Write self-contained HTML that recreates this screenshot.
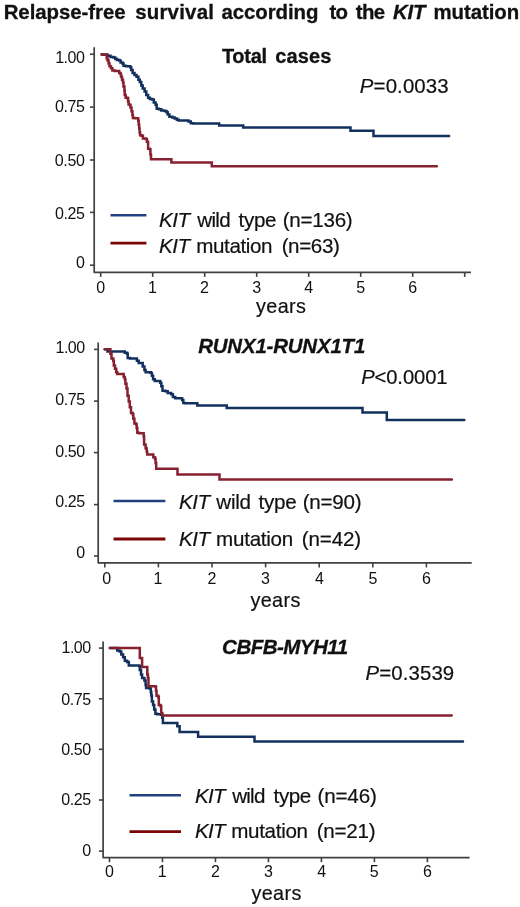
<!DOCTYPE html><html><head><meta charset="utf-8"><style>html,body{margin:0;padding:0;background:#fff;}svg{display:block;will-change:transform}text{font-family:"Liberation Sans",sans-serif;fill:#111111;stroke:#111111;stroke-width:0.2px}text[font-weight=bold]{stroke-width:0.3px}text.tk{stroke-width:0}</style></head><body>
<svg width="520" height="907" viewBox="0 0 520 907">
<rect width="520" height="907" fill="#fff"/>
<path d="M94.20 47.20 V272.30 H471.00" fill="none" stroke="#404040" stroke-width="1.7" stroke-linejoin="round"/>
<path d="M90.00 54.20 H94.20" stroke="#404040" stroke-width="1.6"/>
<path d="M90.00 107.10 H94.20" stroke="#404040" stroke-width="1.6"/>
<path d="M90.00 160.00 H94.20" stroke="#404040" stroke-width="1.6"/>
<path d="M90.00 212.40 H94.20" stroke="#404040" stroke-width="1.6"/>
<path d="M90.00 265.20 H94.20" stroke="#404040" stroke-width="1.6"/>
<path d="M100.70 272.30 V276.90" stroke="#404040" stroke-width="1.6"/>
<path d="M152.70 272.30 V276.90" stroke="#404040" stroke-width="1.6"/>
<path d="M204.70 272.30 V276.90" stroke="#404040" stroke-width="1.6"/>
<path d="M256.70 272.30 V276.90" stroke="#404040" stroke-width="1.6"/>
<path d="M308.70 272.30 V276.90" stroke="#404040" stroke-width="1.6"/>
<path d="M360.70 272.30 V276.90" stroke="#404040" stroke-width="1.6"/>
<path d="M412.70 272.30 V276.90" stroke="#404040" stroke-width="1.6"/>
<path d="M464.70 272.30 V276.90" stroke="#404040" stroke-width="1.6"/>
<path d="M110.50 215.20 H146.40" stroke="#22427f" stroke-width="2.5"/>
<path d="M110.50 243.10 H146.40" stroke="#7a0606" stroke-width="2.8"/>
<path d="M98.20 342.50 V562.80 H471.70" fill="none" stroke="#404040" stroke-width="1.7" stroke-linejoin="round"/>
<path d="M94.00 349.40 H98.20" stroke="#404040" stroke-width="1.6"/>
<path d="M94.00 401.10 H98.20" stroke="#404040" stroke-width="1.6"/>
<path d="M94.00 452.60 H98.20" stroke="#404040" stroke-width="1.6"/>
<path d="M94.00 504.60 H98.20" stroke="#404040" stroke-width="1.6"/>
<path d="M94.00 556.00 H98.20" stroke="#404040" stroke-width="1.6"/>
<path d="M104.80 562.80 V567.40" stroke="#404040" stroke-width="1.6"/>
<path d="M158.40 562.80 V567.40" stroke="#404040" stroke-width="1.6"/>
<path d="M212.00 562.80 V567.40" stroke="#404040" stroke-width="1.6"/>
<path d="M265.60 562.80 V567.40" stroke="#404040" stroke-width="1.6"/>
<path d="M319.20 562.80 V567.40" stroke="#404040" stroke-width="1.6"/>
<path d="M372.80 562.80 V567.40" stroke="#404040" stroke-width="1.6"/>
<path d="M426.40 562.80 V567.40" stroke="#404040" stroke-width="1.6"/>
<path d="M113.50 501.10 H165.40" stroke="#22427f" stroke-width="2.5"/>
<path d="M113.50 539.00 H165.40" stroke="#7a0606" stroke-width="2.8"/>
<path d="M103.10 641.50 V857.60 H469.60" fill="none" stroke="#404040" stroke-width="1.7" stroke-linejoin="round"/>
<path d="M98.90 648.10 H103.10" stroke="#404040" stroke-width="1.6"/>
<path d="M98.90 698.80 H103.10" stroke="#404040" stroke-width="1.6"/>
<path d="M98.90 749.30 H103.10" stroke="#404040" stroke-width="1.6"/>
<path d="M98.90 800.00 H103.10" stroke="#404040" stroke-width="1.6"/>
<path d="M98.90 851.10 H103.10" stroke="#404040" stroke-width="1.6"/>
<path d="M109.50 857.60 V862.20" stroke="#404040" stroke-width="1.6"/>
<path d="M162.48 857.60 V862.20" stroke="#404040" stroke-width="1.6"/>
<path d="M215.46 857.60 V862.20" stroke="#404040" stroke-width="1.6"/>
<path d="M268.44 857.60 V862.20" stroke="#404040" stroke-width="1.6"/>
<path d="M321.42 857.60 V862.20" stroke="#404040" stroke-width="1.6"/>
<path d="M374.40 857.60 V862.20" stroke="#404040" stroke-width="1.6"/>
<path d="M427.38 857.60 V862.20" stroke="#404040" stroke-width="1.6"/>
<path d="M129.50 795.30 H181.00" stroke="#22427f" stroke-width="2.5"/>
<path d="M129.50 831.60 H181.00" stroke="#7a0606" stroke-width="2.8"/>
<path d="M101.60 54.50 H103.80 V54.70 H107.60 V55.70 H110.50 V57.10 H113.40 V57.60 H115.30 V59.10 H117.20 V60.00 H119.20 V60.50 H120.60 V62.40 H122.50 V63.40 H123.50 V65.80 H125.90 V66.30 H128.80 H130.20 V67.20 H131.20 V70.10 H132.60 V73.00 H134.50 V74.90 H136.50 V76.80 H138.40 V79.70 H139.80 V82.10 H141.30 V85.50 H142.70 V88.40 H144.60 V91.50 H146.30 V94.90 H148.10 V97.80 H149.80 V99.00 H152.10 V99.50 H153.80 V102.40 H155.60 V104.70 H156.70 V108.80 H159.00 V109.30 H161.30 V110.50 H164.20 V111.10 H166.50 V112.20 H167.70 V114.50 H169.40 V116.80 H172.30 V117.40 H174.60 V118.60 H176.90 V119.70 H178.70 V120.50 H186.20 H188.50 V121.50 H190.80 V123.20 H193.10 V123.50 H219.20 V125.50 H243.20 V127.40 H350.50 V130.70 H373.50 V136.00 H449.10" fill="none" stroke="#11305e" stroke-width="2.5" stroke-linejoin="miter" stroke-linecap="round"/>
<path d="M101.60 54.50 H106.20 H106.70 V58.60 H107.60 V60.50 H108.60 V63.40 H109.50 V66.30 H111.00 V68.20 H112.40 V70.60 H114.80 V71.10 H118.20 H119.20 V73.00 H120.60 V74.40 H121.10 V76.80 H122.00 V79.70 H123.00 V82.60 H123.50 V86.50 H124.40 V90.30 H124.70 V94.90 H125.70 V97.80 H127.60 V98.30 H128.10 V101.60 H128.60 V104.50 H130.00 V105.00 H130.50 V107.40 H131.50 V111.20 H132.40 V115.10 H132.90 V118.00 H134.80 V118.20 H137.70 H138.20 V120.80 H138.70 V124.70 H139.20 V128.50 H139.60 V132.40 H140.10 V135.30 H141.60 V135.80 H142.90 V138.40 H145.80 V139.00 H146.90 V141.80 H148.10 V146.50 V148.80 H149.80 V149.30 H150.40 V154.50 H151.00 V159.20 H171.40 V162.50 H211.80 V166.30 H436.80" fill="none" stroke="#87202f" stroke-width="2.5" stroke-linejoin="miter" stroke-linecap="round"/>
<path d="M104.70 349.20 H107.50 V351.50 H123.70 H124.80 V352.70 H127.10 V353.80 H127.70 V357.90 H130.00 V358.50 H135.80 H136.90 V360.80 H138.70 V363.10 H141.50 H142.70 V366.50 H144.40 V370.00 H145.60 V372.30 H148.50 H150.80 V372.90 H151.90 V375.80 H153.10 V379.20 H154.80 V381.00 H157.30 H160.20 V382.70 H161.30 V386.20 H162.50 V390.80 H165.40 V391.30 H167.70 V393.10 H171.20 V394.20 H172.90 V397.10 H175.20 V398.30 H179.80 H182.10 V400.00 H183.30 V402.90 H185.00 V403.20 H196.90 H197.30 V405.60 H226.70 V408.00 H362.50 V412.50 H386.80 V420.00 H464.30" fill="none" stroke="#11305e" stroke-width="2.5" stroke-linejoin="miter" stroke-linecap="round"/>
<path d="M104.70 349.20 H110.40 V353.80 H111.50 V358.50 H113.30 V360.80 H113.80 V365.40 H115.00 V368.80 H116.20 V372.30 H117.30 V374.00 H123.10 H123.70 V376.90 H124.80 V379.20 H125.40 V383.80 H126.50 V388.50 H127.50 V395.80 H128.70 V401.50 H129.80 V407.30 H131.00 V413.10 H132.70 V414.20 H133.30 V418.80 H134.40 V423.50 H136.20 V424.60 H136.70 V428.10 H137.30 V432.70 H139.00 V433.30 H143.10 H143.70 V436.20 H144.10 V444.60 H145.40 V444.90 H145.60 V448.30 H146.40 V448.50 H146.70 V451.50 H147.20 V454.40 H149.20 H152.70 H153.30 V457.30 H155.00 V459.00 H155.60 V463.10 H156.20 V468.80 H177.50 V474.40 H219.50 V479.50 H451.90" fill="none" stroke="#87202f" stroke-width="2.5" stroke-linejoin="miter" stroke-linecap="round"/>
<path d="M109.90 648.10 H116.60 H117.30 V650.40 H119.60 V651.50 H121.30 V654.40 H123.10 V657.30 H124.80 V660.80 H127.10 V661.90 H128.80 V665.40 H139.20 V666.00 H139.80 V670.00 H141.00 V674.60 H142.10 V678.10 H144.40 V680.40 H145.60 V685.00 H146.10 V687.90 H149.60 V688.50 H150.80 V691.90 H151.30 V695.40 H151.90 V701.50 H153.10 V705.00 H154.20 V709.60 H155.40 V713.70 H157.10 V714.20 H161.20 V714.80 H162.30 V717.70 H162.90 V722.90 H176.70 H177.30 V726.30 H179.60 V728.10 V732.10 H197.50 H198.10 V736.70 H254.50 V741.60 H463.00" fill="none" stroke="#11305e" stroke-width="2.5" stroke-linejoin="miter" stroke-linecap="round"/>
<path d="M109.90 648.10 H139.80 V657.90 H142.10 V667.10 H146.70 H147.30 V674.60 H147.90 V678.10 H148.50 V686.20 H155.40 V686.50 H156.00 V690.80 H156.50 V695.80 H158.30 V696.90 H158.80 V705.00 H160.60 V706.20 H161.20 V713.10 H162.30 V715.40 H451.70" fill="none" stroke="#87202f" stroke-width="2.5" stroke-linejoin="miter" stroke-linecap="round"/>
<text id="t0" x="3.68" y="18.80" font-size="20.40" font-weight="bold" textLength="121.85" lengthAdjust="spacing">Relapse-free</text>
<text id="t1" x="135.17" y="18.80" font-size="20.40" font-weight="bold" textLength="78.76" lengthAdjust="spacing">survival</text>
<text id="t2" x="221.53" y="18.80" font-size="20.40" font-weight="bold" textLength="96.87" lengthAdjust="spacing">according</text>
<text id="t3" x="329.59" y="18.80" font-size="20.40" font-weight="bold" textLength="18.26" lengthAdjust="spacing">to</text>
<text id="t4" x="355.70" y="18.80" font-size="20.40" font-weight="bold" textLength="29.41" lengthAdjust="spacing">the</text>
<text id="t5" x="392.93" y="18.80" font-size="20.40" font-weight="bold" font-style="italic" textLength="32.58" lengthAdjust="spacing">KIT</text>
<text id="t6" x="433.53" y="18.80" font-size="20.40" font-weight="bold" textLength="85.68" lengthAdjust="spacing">mutation</text>
<text id="p1t0" x="221.88" y="62.50" font-size="20.00" font-weight="bold" textLength="45.19" lengthAdjust="spacing">Total</text>
<text id="p1t1" x="275.32" y="62.50" font-size="20.00" font-weight="bold" textLength="55.97" lengthAdjust="spacing">cases</text>
<text id="p2t" x="198.21" y="352.50" font-size="20.40" font-weight="bold" font-style="italic" textLength="167.03" lengthAdjust="spacing">RUNX1-RUNX1T1</text>
<text id="p3t" x="222.08" y="653.50" font-size="20.60" font-weight="bold" font-style="italic" textLength="126.06" lengthAdjust="spacing">CBFB-MYH11</text>
<text id="p1p" x="359.87" y="93.30" font-size="20.40" textLength="88.73" lengthAdjust="spacing"><tspan font-style="italic">P</tspan>=0.0033</text>
<text id="p2p" x="361.14" y="383.60" font-size="20.20" textLength="86.42" lengthAdjust="spacing"><tspan font-style="italic">P</tspan>&lt;0.0001</text>
<text id="p3p" x="365.53" y="680.40" font-size="20.40" textLength="88.68" lengthAdjust="spacing"><tspan font-style="italic">P</tspan>=0.3539</text>
<text id="p1k1" x="159.01" y="226.90" font-size="20.60" font-style="italic" textLength="31.12" lengthAdjust="spacing">KIT</text>
<text id="p1k2" x="159.01" y="253.10" font-size="20.60" font-style="italic" textLength="31.12" lengthAdjust="spacing">KIT</text>
<text id="p1a0" x="197.26" y="226.90" font-size="20.60" textLength="33.49" lengthAdjust="spacing">wild</text>
<text id="p1a1" x="238.48" y="226.90" font-size="20.60" textLength="38.10" lengthAdjust="spacing">type</text>
<text id="p1a2" x="282.74" y="226.90" font-size="20.60" textLength="69.95" lengthAdjust="spacing">(n=136)</text>
<text id="p1b0" x="196.27" y="253.10" font-size="20.60" textLength="76.30" lengthAdjust="spacing">mutation</text>
<text id="p1b1" x="281.66" y="253.10" font-size="20.60" textLength="58.17" lengthAdjust="spacing">(n=63)</text>
<text id="p2k1" x="178.90" y="508.70" font-size="20.60" font-style="italic" textLength="31.07" lengthAdjust="spacing">KIT</text>
<text id="p2k2" x="178.90" y="545.50" font-size="20.60" font-style="italic" textLength="31.07" lengthAdjust="spacing">KIT</text>
<text id="p2a0" x="216.33" y="508.70" font-size="20.60" textLength="34.56" lengthAdjust="spacing">wild</text>
<text id="p2a1" x="258.60" y="508.70" font-size="20.60" textLength="38.13" lengthAdjust="spacing">type</text>
<text id="p2a2" x="302.65" y="508.70" font-size="20.60" textLength="58.93" lengthAdjust="spacing">(n=90)</text>
<text id="p2b0" x="216.07" y="545.50" font-size="20.60" textLength="77.22" lengthAdjust="spacing">mutation</text>
<text id="p2b1" x="301.65" y="545.50" font-size="20.60" textLength="59.56" lengthAdjust="spacing">(n=42)</text>
<text id="p3k1" x="195.01" y="802.60" font-size="20.60" font-style="italic" textLength="30.49" lengthAdjust="spacing">KIT</text>
<text id="p3k2" x="195.01" y="838.20" font-size="20.60" font-style="italic" textLength="30.49" lengthAdjust="spacing">KIT</text>
<text id="p3a0" x="232.17" y="802.60" font-size="20.60" textLength="33.21" lengthAdjust="spacing">wild</text>
<text id="p3a1" x="273.57" y="802.60" font-size="20.60" textLength="37.77" lengthAdjust="spacing">type</text>
<text id="p3a2" x="317.57" y="802.60" font-size="20.60" textLength="59.20" lengthAdjust="spacing">(n=46)</text>
<text id="p3b0" x="231.28" y="838.20" font-size="20.60" textLength="76.70" lengthAdjust="spacing">mutation</text>
<text id="p3b1" x="316.74" y="838.20" font-size="20.60" textLength="58.77" lengthAdjust="spacing">(n=21)</text>
<text id="p1y" x="255.96" y="313.10" font-size="19.80" textLength="50.00" lengthAdjust="spacing">years</text>
<text id="p2y" x="250.43" y="607.30" font-size="19.80" textLength="49.91" lengthAdjust="spacing">years</text>
<text id="p3y" x="251.43" y="899.50" font-size="19.80" textLength="49.91" lengthAdjust="spacing">years</text>
<text id="p1yl0" x="84.81" y="62.75" font-size="16.00" text-anchor="end" class="tk" textLength="29.68" lengthAdjust="spacing">1.00</text>
<text id="p1yl1" x="84.83" y="112.10" font-size="16.00" text-anchor="end" class="tk" textLength="29.86" lengthAdjust="spacing">0.75</text>
<text id="p1yl2" x="84.81" y="166.15" font-size="16.00" text-anchor="end" class="tk" textLength="29.99" lengthAdjust="spacing">0.50</text>
<text id="p1yl3" x="84.83" y="218.65" font-size="16.00" text-anchor="end" class="tk" textLength="29.86" lengthAdjust="spacing">0.25</text>
<text id="p1yl4" x="84.81" y="267.80" font-size="16.00" text-anchor="end" class="tk">0</text>
<text id="p1xl0" x="100.77" y="293.35" font-size="16.00" text-anchor="middle" class="tk">0</text>
<text id="p1xl1" x="152.42" y="293.35" font-size="16.00" text-anchor="middle" class="tk">1</text>
<text id="p1xl2" x="204.54" y="293.35" font-size="16.00" text-anchor="middle" class="tk">2</text>
<text id="p1xl3" x="256.76" y="293.35" font-size="16.00" text-anchor="middle" class="tk">3</text>
<text id="p1xl4" x="308.79" y="293.35" font-size="16.00" text-anchor="middle" class="tk">4</text>
<text id="p1xl5" x="360.64" y="293.35" font-size="16.00" text-anchor="middle" class="tk">5</text>
<text id="p1xl6" x="412.82" y="293.35" font-size="16.00" text-anchor="middle" class="tk">6</text>
<text id="p2yl0" x="85.13" y="353.15" font-size="16.00" text-anchor="end" class="tk" textLength="29.59" lengthAdjust="spacing">1.00</text>
<text id="p2yl1" x="85.12" y="405.35" font-size="16.00" text-anchor="end" class="tk" textLength="29.79" lengthAdjust="spacing">0.75</text>
<text id="p2yl2" x="85.13" y="456.75" font-size="16.00" text-anchor="end" class="tk" textLength="29.81" lengthAdjust="spacing">0.50</text>
<text id="p2yl3" x="85.12" y="506.75" font-size="16.00" text-anchor="end" class="tk" textLength="29.79" lengthAdjust="spacing">0.25</text>
<text id="p2yl4" x="85.13" y="558.20" font-size="16.00" text-anchor="end" class="tk">0</text>
<text id="p2xl0" x="106.62" y="584.05" font-size="16.00" text-anchor="middle" class="tk">0</text>
<text id="p2xl1" x="157.99" y="584.05" font-size="16.00" text-anchor="middle" class="tk">1</text>
<text id="p2xl2" x="211.90" y="584.05" font-size="16.00" text-anchor="middle" class="tk">2</text>
<text id="p2xl3" x="265.57" y="584.05" font-size="16.00" text-anchor="middle" class="tk">3</text>
<text id="p2xl4" x="319.33" y="584.05" font-size="16.00" text-anchor="middle" class="tk">4</text>
<text id="p2xl5" x="372.85" y="584.05" font-size="16.00" text-anchor="middle" class="tk">5</text>
<text id="p2xl6" x="426.40" y="584.05" font-size="16.00" text-anchor="middle" class="tk">6</text>
<text id="p3yl0" x="91.08" y="653.15" font-size="16.00" text-anchor="end" class="tk" textLength="29.49" lengthAdjust="spacing">1.00</text>
<text id="p3yl1" x="91.18" y="705.35" font-size="16.00" text-anchor="end" class="tk" textLength="30.04" lengthAdjust="spacing">0.75</text>
<text id="p3yl2" x="91.08" y="755.30" font-size="16.00" text-anchor="end" class="tk" textLength="29.94" lengthAdjust="spacing">0.50</text>
<text id="p3yl3" x="91.18" y="805.20" font-size="16.00" text-anchor="end" class="tk" textLength="30.04" lengthAdjust="spacing">0.25</text>
<text id="p3yl4" x="91.08" y="855.55" font-size="16.00" text-anchor="end" class="tk">0</text>
<text id="p3xl0" x="109.46" y="877.15" font-size="16.00" text-anchor="middle" class="tk">0</text>
<text id="p3xl1" x="162.13" y="877.15" font-size="16.00" text-anchor="middle" class="tk">1</text>
<text id="p3xl2" x="215.52" y="877.15" font-size="16.00" text-anchor="middle" class="tk">2</text>
<text id="p3xl3" x="268.40" y="877.15" font-size="16.00" text-anchor="middle" class="tk">3</text>
<text id="p3xl4" x="321.74" y="877.15" font-size="16.00" text-anchor="middle" class="tk">4</text>
<text id="p3xl5" x="374.23" y="877.15" font-size="16.00" text-anchor="middle" class="tk">5</text>
<text id="p3xl6" x="427.37" y="877.15" font-size="16.00" text-anchor="middle" class="tk">6</text>
</svg></body></html>
